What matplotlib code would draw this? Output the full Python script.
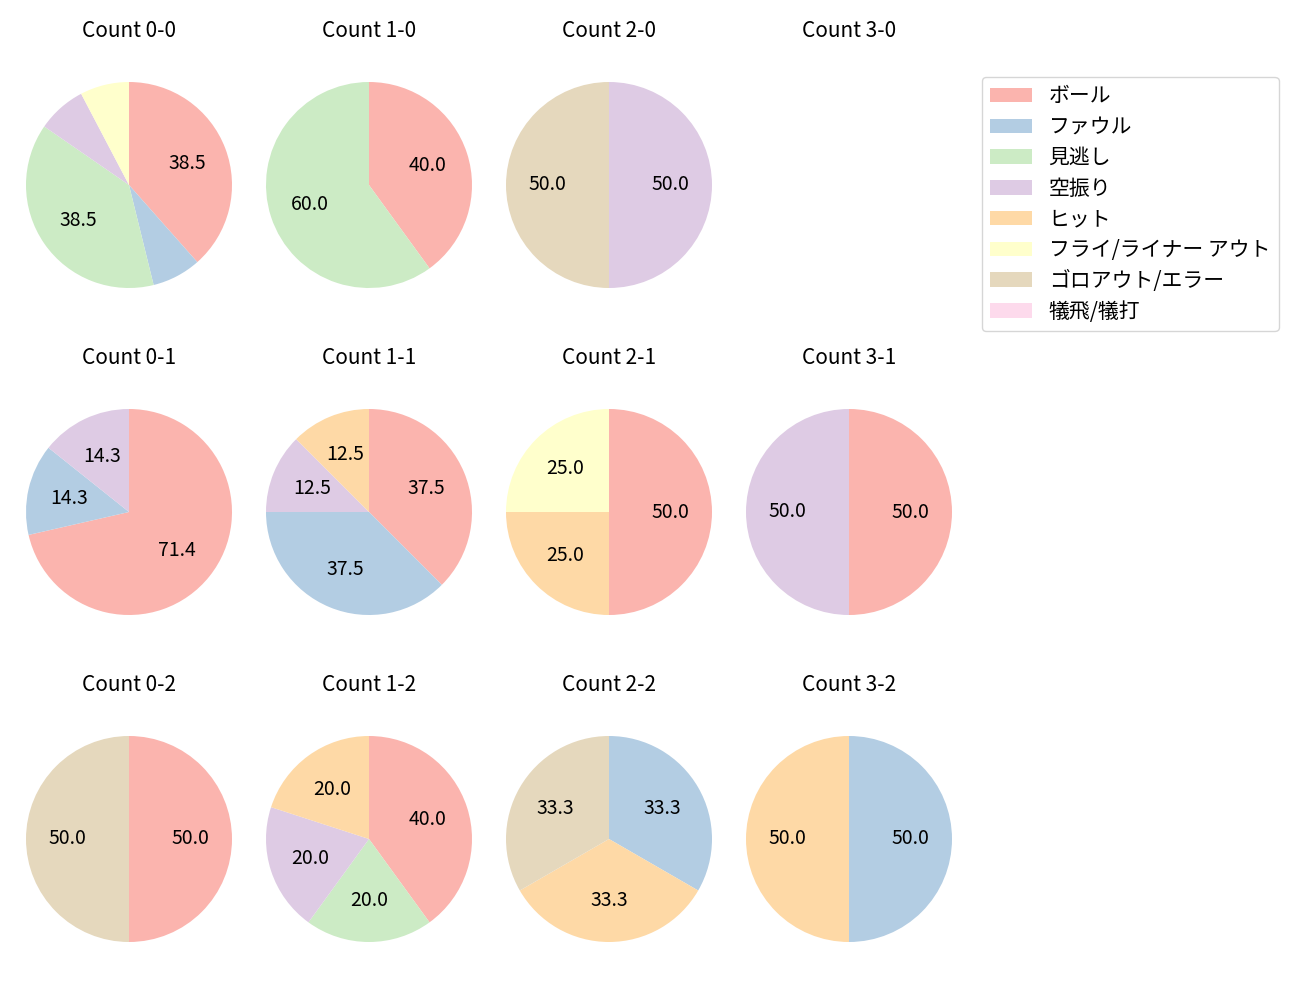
import numpy as np
import matplotlib
matplotlib.use("Agg")
import matplotlib.pyplot as plt
from matplotlib.patches import Patch

plt.rcParams['font.family'] = ['Noto Sans CJK JP', 'DejaVu Sans']

categories = ["ボール", "ファウル", "見逃し", "空振り", "ヒット",
              "フライ/ライナー アウト", "ゴロアウト/エラー", "犠飛/犠打"]
colors = plt.get_cmap("Pastel1").colors[:8]

# pitch counts per category, keyed by ball-strike count
counts = {
    "0-0": [5, 1, 5, 1, 0, 1, 0, 0],
    "1-0": [2, 0, 3, 0, 0, 0, 0, 0],
    "2-0": [0, 0, 0, 1, 0, 0, 1, 0],
    "3-0": [0, 0, 0, 0, 0, 0, 0, 0],
    "0-1": [5, 1, 0, 1, 0, 0, 0, 0],
    "1-1": [3, 3, 0, 1, 1, 0, 0, 0],
    "2-1": [2, 0, 0, 0, 1, 1, 0, 0],
    "3-1": [1, 0, 0, 1, 0, 0, 0, 0],
    "0-2": [1, 0, 0, 0, 0, 0, 1, 0],
    "1-2": [2, 0, 1, 1, 1, 0, 0, 0],
    "2-2": [0, 1, 0, 0, 1, 0, 1, 0],
    "3-2": [0, 1, 0, 0, 1, 0, 0, 0],
}

W, H = 1300, 1000
fig = plt.figure(figsize=(13, 10), dpi=100)

side = 257.5  # px, axes box for pie radius ~103 px
for strikes in range(3):
    for balls in range(4):
        key = f"{balls}-{strikes}"
        cx = 129 + 240 * balls
        cy = 185 + 327 * strikes
        ax = fig.add_axes([(cx - side / 2) / W, 1 - (cy + side / 2) / H,
                           side / W, side / H])
        ax.set_title(f"Count {key}", fontsize=15, pad=14)
        vals = np.array(counts[key], dtype=float)
        if vals.sum() == 0:
            ax.axis("off")
            continue
        mask = vals > 0
        ax.pie(vals[mask], colors=[c for c, m in zip(colors, mask) if m],
               startangle=90, counterclock=False,
               autopct=lambda p: f"{p:.1f}" if p >= 10 else "",
               textprops={"fontsize": 14})

handles = [Patch(facecolor=c, label=l) for c, l in zip(colors, categories)]
fig.legend(handles=handles, loc="upper left", fontsize=15, labelspacing=0.42,
           bbox_to_anchor=(982 / W, 1 - 77 / H), borderaxespad=0)

fig.savefig("out.png", dpi=100)
